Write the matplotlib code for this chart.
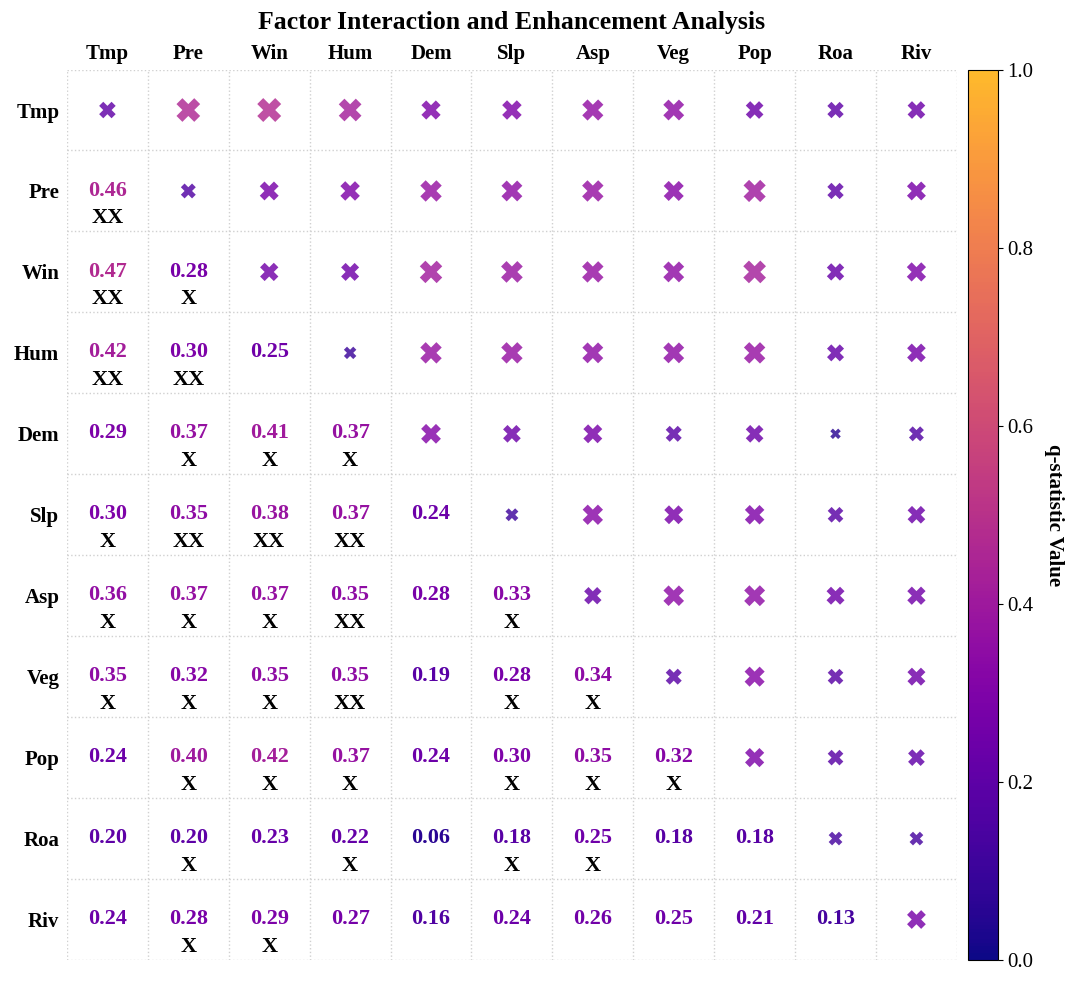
import matplotlib
matplotlib.use("Agg")
import matplotlib.pyplot as plt
from matplotlib.colors import ListedColormap
import numpy as np

plt.rcParams['font.family'] = ['Liberation Serif', 'DejaVu Serif']

# 因子名称
factors = ['Tmp', 'Pre', 'Win', 'Hum', 'Dem', 'Slp', 'Asp', 'Veg', 'Pop', 'Roa', 'Riv']

# 单因子 q 值（对角线，从标记大小估计）
single_q = [0.205, 0.16, 0.26, 0.10, 0.31, 0.11, 0.23, 0.19, 0.29, 0.13, 0.275]

# 交互作用 q 值（下三角）
inter_q = [
    [],
    [0.46],
    [0.47, 0.28],
    [0.42, 0.30, 0.25],
    [0.29, 0.37, 0.41, 0.37],
    [0.30, 0.35, 0.38, 0.37, 0.24],
    [0.36, 0.37, 0.37, 0.35, 0.28, 0.33],
    [0.35, 0.32, 0.35, 0.35, 0.19, 0.28, 0.34],
    [0.24, 0.40, 0.42, 0.37, 0.24, 0.30, 0.35, 0.32],
    [0.20, 0.20, 0.23, 0.22, 0.06, 0.18, 0.25, 0.18, 0.18],
    [0.24, 0.28, 0.29, 0.27, 0.16, 0.24, 0.26, 0.25, 0.21, 0.13],
]

# 增强类型: X 双因子增强, XX 非线性增强
enhance = [
    [],
    ['XX'],
    ['XX', 'X'],
    ['XX', 'XX', ''],
    ['', 'X', 'X', 'X'],
    ['X', 'XX', 'XX', 'XX', ''],
    ['X', 'X', 'X', 'XX', '', 'X'],
    ['X', 'X', 'X', 'XX', '', 'X', 'X'],
    ['', 'X', 'X', 'X', '', 'X', 'X', 'X'],
    ['', 'X', '', 'X', '', 'X', 'X', '', ''],
    ['', 'X', 'X', '', '', '', '', '', '', ''],
]

n = len(factors)
# plasma 截取到 0.85，去掉最亮的黄色
cmap = ListedColormap(plt.get_cmap('plasma')(np.linspace(0, 0.85, 256)))
norm = plt.Normalize(0, 1)

fig = plt.figure(figsize=(10.8, 9.85), dpi=100)
ax = fig.add_axes([0.062, 0.0254, 0.824, 0.904])
cax = fig.add_axes([0.896, 0.0254, 0.0278, 0.904])

# 上三角 + 对角线: 标记
xs, ys, vs = [], [], []
for i in range(n):
    for j in range(i, n):
        v = single_q[i] if i == j else inter_q[j][i]
        xs.append(j)
        ys.append(i)
        vs.append(v)
vs = np.array(vs)
ax.scatter(xs, ys, s=585 * vs + 22, c=vs, cmap=cmap, norm=norm,
           marker='X', alpha=0.82, edgecolors='none', zorder=3)

# 下三角: 数值和增强类型
for i in range(n):
    for j in range(i):
        v = inter_q[i][j]
        ax.text(j, i - 0.005, f'{v:.2f}', ha='center', va='center',
                fontsize=16, fontweight='bold', color=cmap(norm(v)))
        if enhance[i][j]:
            ax.text(j, i + 0.34, enhance[i][j], ha='center', va='center',
                    fontsize=16, fontweight='bold', color='black')

ax.set_xlim(-0.5, n - 0.5)
ax.set_ylim(n - 0.5, -0.5)
ax.set_xticks(range(n))
ax.set_yticks(range(n))
ax.set_xticklabels(factors, fontsize=15, fontweight='bold')
ax.set_yticklabels(factors, fontsize=15, fontweight='bold')
ax.xaxis.tick_top()
ax.tick_params(axis='x', length=0, pad=4)
ax.tick_params(axis='y', length=0, pad=5.5)
ax.set_xticks(np.arange(-0.5, n, 1), minor=True)
ax.set_yticks(np.arange(-0.5, n, 1), minor=True)
ax.tick_params(which='minor', length=0)
ax.grid(which='minor', color='#d0d0d0', linestyle=':', linewidth=1.0)
ax.grid(which='major', visible=False)
for sp in ax.spines.values():
    sp.set_visible(False)

sm = plt.cm.ScalarMappable(cmap=cmap, norm=norm)
cb = fig.colorbar(sm, cax=cax)
cb.set_ticks([0.0, 0.2, 0.4, 0.6, 0.8, 1.0])
cb.ax.tick_params(labelsize=15)
cb.set_label('q-statistic Value', fontsize=15, fontweight='bold', rotation=270, labelpad=22)

fig.text(0.474, 0.977, 'Factor Interaction and Enhancement Analysis',
         ha='center', va='center', fontsize=18.5, fontweight='bold')

fig.savefig('out.png', dpi=100)
